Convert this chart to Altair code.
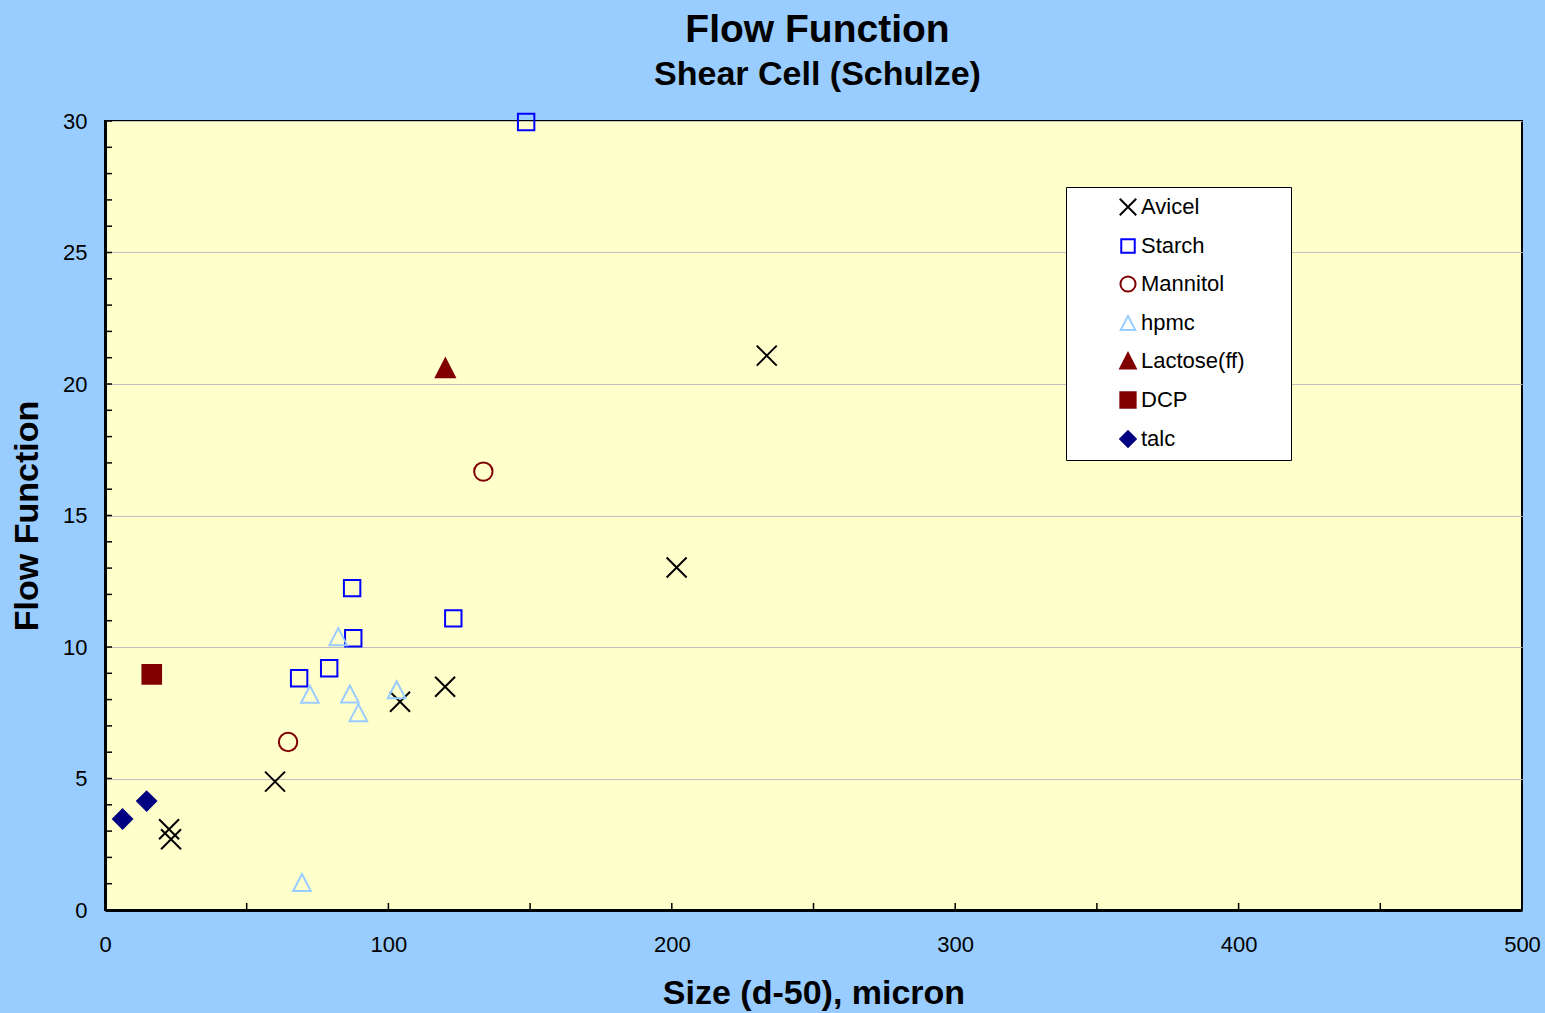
import altair as alt
import pandas as pd

FONT = "Liberation Sans"

# ---- data ----
series_names = ["Avicel", "Starch", "Mannitol", "hpmc", "Lactose(ff)", "DCP", "talc"]

avicel_x = [233.5, 201.7, 120.0, 104.1, 60.0, 22.6, 23.3]
avicel_y = [21.08, 13.02, 8.49, 7.92, 4.88, 3.07, 2.69]
starch_x = [148.6, 87.2, 87.6, 122.9, 79.1, 68.5]
starch_y = [29.96, 12.24, 10.33, 11.09, 9.19, 8.81]
mannitol_x = [133.5, 64.6]
mannitol_y = [16.67, 6.39]
hpmc_x = [82.3, 72.3, 86.4, 89.4, 102.9, 69.5]
hpmc_y = [10.39, 8.20, 8.21, 7.50, 8.37, 1.04]
lactose_x = [120.1]
lactose_y = [20.6]
dcp_x = [16.5]
dcp_y = [8.96]
talc_x = [6.2, 14.7]
talc_y = [3.46, 4.14]

x_tick_labels = [0, 100, 200, 300, 400, 500]
y_tick_labels = [0, 5, 10, 15, 20, 25, 30]
x_minor_ticks = [0, 50, 100, 150, 200, 250, 300, 350, 400, 450, 500]
y_minor_ticks = list(range(0, 31))

# ---- build table ----
xs_all = [avicel_x, starch_x, mannitol_x, hpmc_x, lactose_x, dcp_x, talc_x]
ys_all = [avicel_y, starch_y, mannitol_y, hpmc_y, lactose_y, dcp_y, talc_y]
rows = []
for name, xv, yv in zip(series_names, xs_all, ys_all):
    for a, b in zip(xv, yv):
        rows.append({"Series": name, "x": a, "y": b})
df = pd.DataFrame(rows)

# ---- styles (marker paths in unit coordinates, scaled by the mark size) ----
shapes = [
    "M-1,-1L1,1M-1,1L1,-1",                                   # x cross
    "M-0.82,-0.82H0.82V0.82H-0.82Z",                          # open square
    "M0.92,0A0.92,0.92 0 1,1 -0.92,0A0.92,0.92 0 1,1 0.92,0Z",  # open circle
    "M0,-0.86L0.88,0.84L-0.88,0.84Z",                         # open triangle
    "M0,-0.95L0.95,0.9L-0.95,0.9Z",                           # filled triangle
    "M-0.93,-0.93H0.93V0.93H-0.93Z",                          # filled square
    "M0,-0.95L0.95,0L0,0.95L-0.95,0Z",                        # diamond
]
strokes = ["#000000", "#0000FF", "#800000", "#99CCFF", "#800000", "#800000", "#000080"]
fills = ["transparent", "transparent", "transparent", "transparent", "#800000", "#800000", "#000080"]

W, H = 1417, 789

x_scale = alt.Scale(domain=[0, 500], nice=False, zero=False)
y_scale = alt.Scale(domain=[0, 30], nice=False, zero=False)

x_axis = alt.Axis(
    title="Size (d-50), micron", values=x_tick_labels, grid=False, ticks=False,
    domainColor="black", domainWidth=3, labelFont=FONT, labelFontSize=22,
    labelColor="black", labelPadding=24, titleFont=FONT, titleFontSize=34,
    titleFontWeight="bold", titleColor="black", titleBaseline="alphabetic",
    titleY=93, labelFlush=False,
)
y_axis = alt.Axis(
    title="Flow Function", values=y_tick_labels, grid=True, gridColor="#C0C0C0",
    gridWidth=1, ticks=False, domainColor="black", domainWidth=3, labelFont=FONT,
    labelFontSize=22, labelColor="black", labelPadding=18, titleFont=FONT,
    titleFontSize=34, titleFontWeight="bold", titleColor="black",
    titleAngle=270, titleBaseline="alphabetic", titleAlign="center",
    titleX=-68, titleY=H / 2, labelFlush=False,
)

# trailing no-break spaces (kept from trimming by a zero-width space) widen the box
PAD = "\u00a0" * 6 + "\u200b"
legend = alt.Legend(
    title=None, orient="none", legendX=961, legendY=66, fillColor="white",
    strokeColor="black", padding=9, symbolOffset=42, labelOffset=2,
    labelFont=FONT, labelFontSize=22, labelColor="black", rowPadding=15,
    symbolSize=270, symbolStrokeWidth=2,
    labelExpr="datum.label + '" + PAD + "'",
)

points = alt.Chart(df).mark_point(opacity=1, strokeWidth=2, size=400).encode(
    x=alt.X("x:Q", scale=x_scale, axis=x_axis),
    y=alt.Y("y:Q", scale=y_scale, axis=y_axis),
    shape=alt.Shape("Series:N", scale=alt.Scale(domain=series_names, range=shapes), legend=legend),
    stroke=alt.Stroke("Series:N", scale=alt.Scale(domain=series_names, range=strokes), legend=legend),
    fill=alt.Fill("Series:N", scale=alt.Scale(domain=series_names, range=fills), legend=legend),
)

y_ticks = alt.Chart(pd.DataFrame({"v": y_minor_ticks})).mark_rule(color="black", strokeWidth=1.5).encode(
    y=alt.Y("v:Q", scale=y_scale, axis=y_axis),
    x=alt.value(0),
    x2=alt.value(7),
)
x_ticks = alt.Chart(pd.DataFrame({"v": x_minor_ticks})).mark_rule(color="black", strokeWidth=1.5).encode(
    x=alt.X("v:Q", scale=x_scale, axis=x_axis),
    y=alt.value(H),
    y2=alt.value(H - 7),
)

chart = alt.layer(y_ticks, x_ticks, points).properties(
    width=W,
    height=H,
    autosize=alt.AutoSizeParams(type="none"),
    padding={"left": 105, "top": 121, "right": 23, "bottom": 103},
    background="#99CCFF",
    title=alt.Title(
        "Flow Function", subtitle="Shear Cell (Schulze)", font=FONT, fontSize=39,
        fontWeight="bold", color="black", subtitleFont=FONT, subtitleFontSize=34,
        subtitleFontWeight="bold", subtitleColor="black", anchor="middle",
        offset=18, subtitlePadding=8, dx=4,
    ),
).configure_view(fill="#FFFFCC", stroke="black", strokeWidth=2)

chart.save("out.html", embed_options={"renderer": "svg", "actions": False})
